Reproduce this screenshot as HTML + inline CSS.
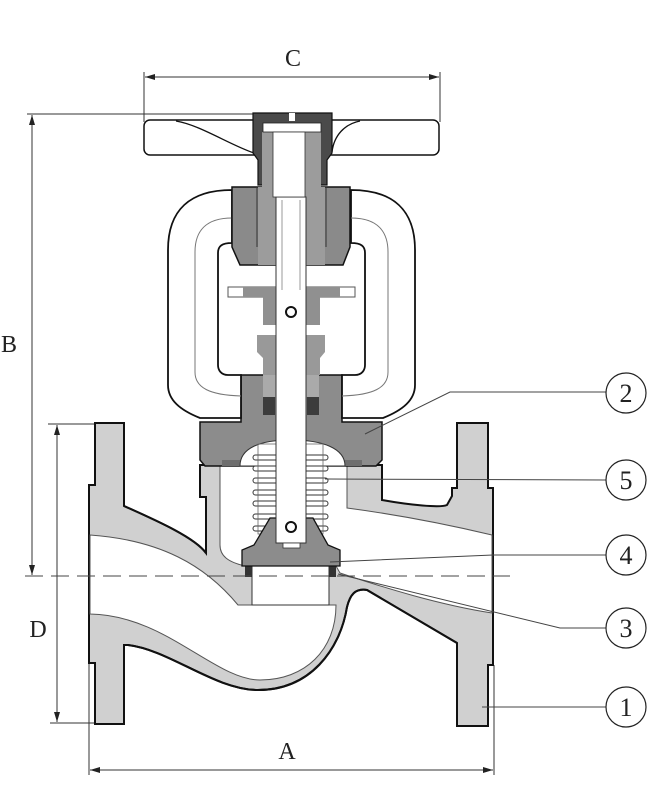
<!DOCTYPE html>
<html><head><meta charset="utf-8"><style>
html,body{margin:0;padding:0;background:#fff;}
svg{display:block;}
text{font-family:"Liberation Serif","DejaVu Serif",serif;fill:#222;}
</style></head><body>
<svg width="649" height="800" viewBox="0 0 649 800" xmlns="http://www.w3.org/2000/svg">
<defs>
<marker id="ar" markerWidth="10" markerHeight="6" refX="10" refY="3" orient="auto" markerUnits="userSpaceOnUse"><path d="M0,0 L10,3 L0,6 Z" fill="#222"/></marker>
</defs>

<!-- dimension lines -->
<g stroke="#333" stroke-width="1" fill="none">
<line x1="144" y1="72" x2="144" y2="122"/>
<line x1="440" y1="72" x2="440" y2="122"/>
<line x1="292" y1="77" x2="145" y2="77" marker-end="url(#ar)"/>
<line x1="292" y1="77" x2="439" y2="77" marker-end="url(#ar)"/>
<line x1="27" y1="114" x2="255" y2="114"/>
<line x1="32" y1="340" x2="32" y2="115" marker-end="url(#ar)"/>
<line x1="32" y1="340" x2="32" y2="575" marker-end="url(#ar)"/>
<line x1="48" y1="424" x2="95" y2="424"/>
<line x1="50" y1="723" x2="95" y2="723"/>
<line x1="57" y1="590" x2="57" y2="425" marker-end="url(#ar)"/>
<line x1="57" y1="590" x2="57" y2="722" marker-end="url(#ar)"/>
<line x1="89" y1="663" x2="89" y2="775"/>
<line x1="494" y1="665" x2="494" y2="775"/>
<line x1="290" y1="770" x2="90" y2="770" marker-end="url(#ar)"/>
<line x1="290" y1="770" x2="493" y2="770" marker-end="url(#ar)"/>
</g>
<text x="293" y="66" font-size="24" text-anchor="middle">C</text>
<text x="9" y="352" font-size="24" text-anchor="middle">B</text>
<text x="38" y="637" font-size="24" text-anchor="middle">D</text>
<text x="287" y="759" font-size="24" text-anchor="middle">A</text>

<!-- body gray silhouette -->
<path d="M95,423 H124 V506 C160,522 195,538 206,553 V497 H200 V465 H382 V500 C410,505 440,508 447,505 L452,496 V488 H457 V423 H488 V488 H493 V665 H488 V726 H457 V643 L367,590 C355,588 350,595 347,607 C340,650 310,690 258,690 C215,690 170,650 128,645 H124 V724 H95 V663 H89 V485 H95 Z" fill="#d0d0d0" stroke="#111" stroke-width="2"/>

<!-- flow passages -->
<path d="M90,535 C160,540 205,565 238,605 L336,605 C336,650 305,680 260,680 C215,680 165,615 90,614 Z" fill="#fff" stroke="#555" stroke-width="1"/>
<path d="M220,466 H347 V508 C400,515 450,525 492,535 V613 C440,605 385,588 340,573 L336,566 H245 C228,562 220,556 220,545 Z" fill="#fff" stroke="#555" stroke-width="1"/>
<line x1="206" y1="553" x2="206" y2="497" stroke="#111" stroke-width="2"/>
<path d="M124,506 C160,522 195,538 206,553" fill="none" stroke="#111" stroke-width="2"/>
<!-- lower wall outer line -->
<path d="M128,645 C170,650 215,690 258,690 C310,690 340,650 347,607 C350,595 355,588 367,590 L457,643" fill="none" stroke="#111" stroke-width="2"/>
<!-- seat -->
<rect x="252" y="566" width="77" height="39" fill="#fff" stroke="#333" stroke-width="1"/>
<rect x="245" y="566" width="7" height="11" fill="#333"/>
<rect x="329" y="566" width="7" height="11" fill="#333"/>

<!-- bonnet -->
<path d="M241,375 H342 V422 H382 V460 L376,466 H205 L200,460 V422 H241 Z" fill="#8c8c8c" stroke="#111" stroke-width="1.5"/>
<rect x="222" y="460" width="140" height="6" fill="#6e6e6e"/>
<path d="M240,466 C240,448 260,440 291,440 C322,440 345,448 345,466 Z" fill="#fff" stroke="#333" stroke-width="1"/>

<!-- yoke -->
<path d="M232,190 C190,190 168,210 168,250 V385 C168,400 180,410 200,418 H241 V375 H228 C221,375 218,370 218,365 V253 C218,246 222,243 232,243 Z" fill="#fff" stroke="#111" stroke-width="1.8"/>
<path d="M351,190 C393,190 415,210 415,250 V385 C415,400 403,410 383,418 H342 V375 H355 C362,375 365,370 365,365 V253 C365,246 361,243 351,243 Z" fill="#fff" stroke="#111" stroke-width="1.8"/>
<path d="M232,218 C205,218 195,232 195,252 V372 C195,388 210,395 241,396" fill="none" stroke="#777" stroke-width="1"/>
<path d="M351,218 C378,218 388,232 388,252 V372 C388,388 373,395 342,396" fill="none" stroke="#777" stroke-width="1"/>

<!-- yoke nut -->
<path d="M232,187 H350 V247 L343,265 H240 L232,247 Z" fill="#8a8a8a" stroke="#111" stroke-width="1.5"/>
<line x1="257" y1="187" x2="257" y2="247" stroke="#333"/>
<line x1="326" y1="187" x2="326" y2="247" stroke="#333"/>
<path d="M258,187 H325 V265 H258 Z" fill="#9c9c9c"/>

<!-- collar -->
<rect x="228" y="287" width="127" height="10" fill="#fff" stroke="#555"/>
<path d="M243,287 H340 V297 H320 V325 H263 V297 H243 Z" fill="#909090"/>
<path d="M257,335 H325 V352 L320,358 V375 H263 V358 L257,352 Z" fill="#999"/>
<rect x="263" y="375" width="56" height="22" fill="#aaa"/>
<rect x="263" y="397" width="12" height="18" fill="#3c3c3c"/>
<rect x="307" y="397" width="12" height="18" fill="#3c3c3c"/>
<rect x="275" y="415" width="32" height="25" fill="#8c8c8c"/>

<!-- bellows -->
<g fill="#fff" stroke="#333" stroke-width="1">
<rect x="253" y="455" width="75" height="5" rx="2.5"/>
<rect x="253" y="466" width="75" height="5" rx="2.5"/>
<rect x="253" y="478" width="75" height="5" rx="2.5"/>
<rect x="253" y="490" width="75" height="5" rx="2.5"/>
<rect x="253" y="501" width="75" height="5" rx="2.5"/>
<rect x="253" y="514" width="75" height="5" rx="2.5"/>
<rect x="253" y="526" width="75" height="5" rx="2.5"/>
</g>
<rect x="258" y="444" width="65" height="90" fill="none" stroke="#666" stroke-width="0.8"/>
<rect x="258" y="537" width="7" height="3" fill="#111"/>
<rect x="317" y="537" width="7" height="3" fill="#111"/>

<!-- disc -->
<path d="M270,518 H313 L328,545 L340,550 V566 H242 V550 L254,545 Z" fill="#8c8c8c" stroke="#111" stroke-width="1.3"/>

<!-- stem -->
<rect x="276" y="197" width="30" height="346" fill="#fff" stroke="#333" stroke-width="1"/>
<line x1="282" y1="200" x2="282" y2="290" stroke="#999"/>
<line x1="300" y1="200" x2="300" y2="290" stroke="#999"/>
<rect x="283" y="543" width="17" height="5" fill="#fff" stroke="#333" stroke-width="0.8"/>
<circle cx="291" cy="312" r="5" fill="#fff" stroke="#111" stroke-width="2"/>
<circle cx="291" cy="527" r="5" fill="#fff" stroke="#111" stroke-width="2"/>

<!-- handwheel -->
<rect x="144" y="120" width="295" height="35" rx="6" fill="#fff" stroke="#111" stroke-width="1.5"/>
<path d="M176,121 C200,125 230,145 254,153" fill="none" stroke="#111" stroke-width="1.3"/>
<path d="M332,152 C334,135 345,124 360,121" fill="none" stroke="#111" stroke-width="1.3"/>

<!-- cap -->
<path d="M253,113 H332 V153 L327,160 V185 H258 V160 L253,153 Z" fill="#4a4a4a" stroke="#111" stroke-width="1.2"/>
<rect x="262" y="132" width="59" height="55" fill="#9c9c9c"/>
<rect x="263" y="123" width="58" height="9" fill="#fff" stroke="#222" stroke-width="0.8"/>
<rect x="289" y="113" width="6" height="8" fill="#fff"/>
<rect x="273" y="132" width="32" height="65" fill="#fff" stroke="#333" stroke-width="0.8"/>

<!-- centerline -->
<line x1="25" y1="576" x2="510" y2="576" stroke="#444" stroke-width="1" stroke-dasharray="18,8"/>

<!-- leaders -->
<g stroke="#444" stroke-width="1" fill="none">
<polyline points="606,392 450,392 365,434"/>
<line x1="606" y1="480" x2="325" y2="479"/>
<polyline points="606,555 493,555 330,562"/>
<polyline points="606,628 560,628 338,574"/>
<line x1="606" y1="707" x2="482" y2="707"/>
</g>
<g fill="#fff" stroke="#222" stroke-width="1.2">
<circle cx="626" cy="393" r="20"/>
<circle cx="626" cy="480" r="20"/>
<circle cx="626" cy="555" r="20"/>
<circle cx="626" cy="628" r="20"/>
<circle cx="626" cy="707" r="20"/>
</g>
<g font-size="26" text-anchor="middle" style="font-family:'DejaVu Sans Mono','Liberation Mono',monospace">
<text x="626" y="402">2</text>
<text x="626" y="489">5</text>
<text x="626" y="564">4</text>
<text x="626" y="637">3</text>
<text x="626" y="716">1</text>
</g>
</svg>
</body></html>
